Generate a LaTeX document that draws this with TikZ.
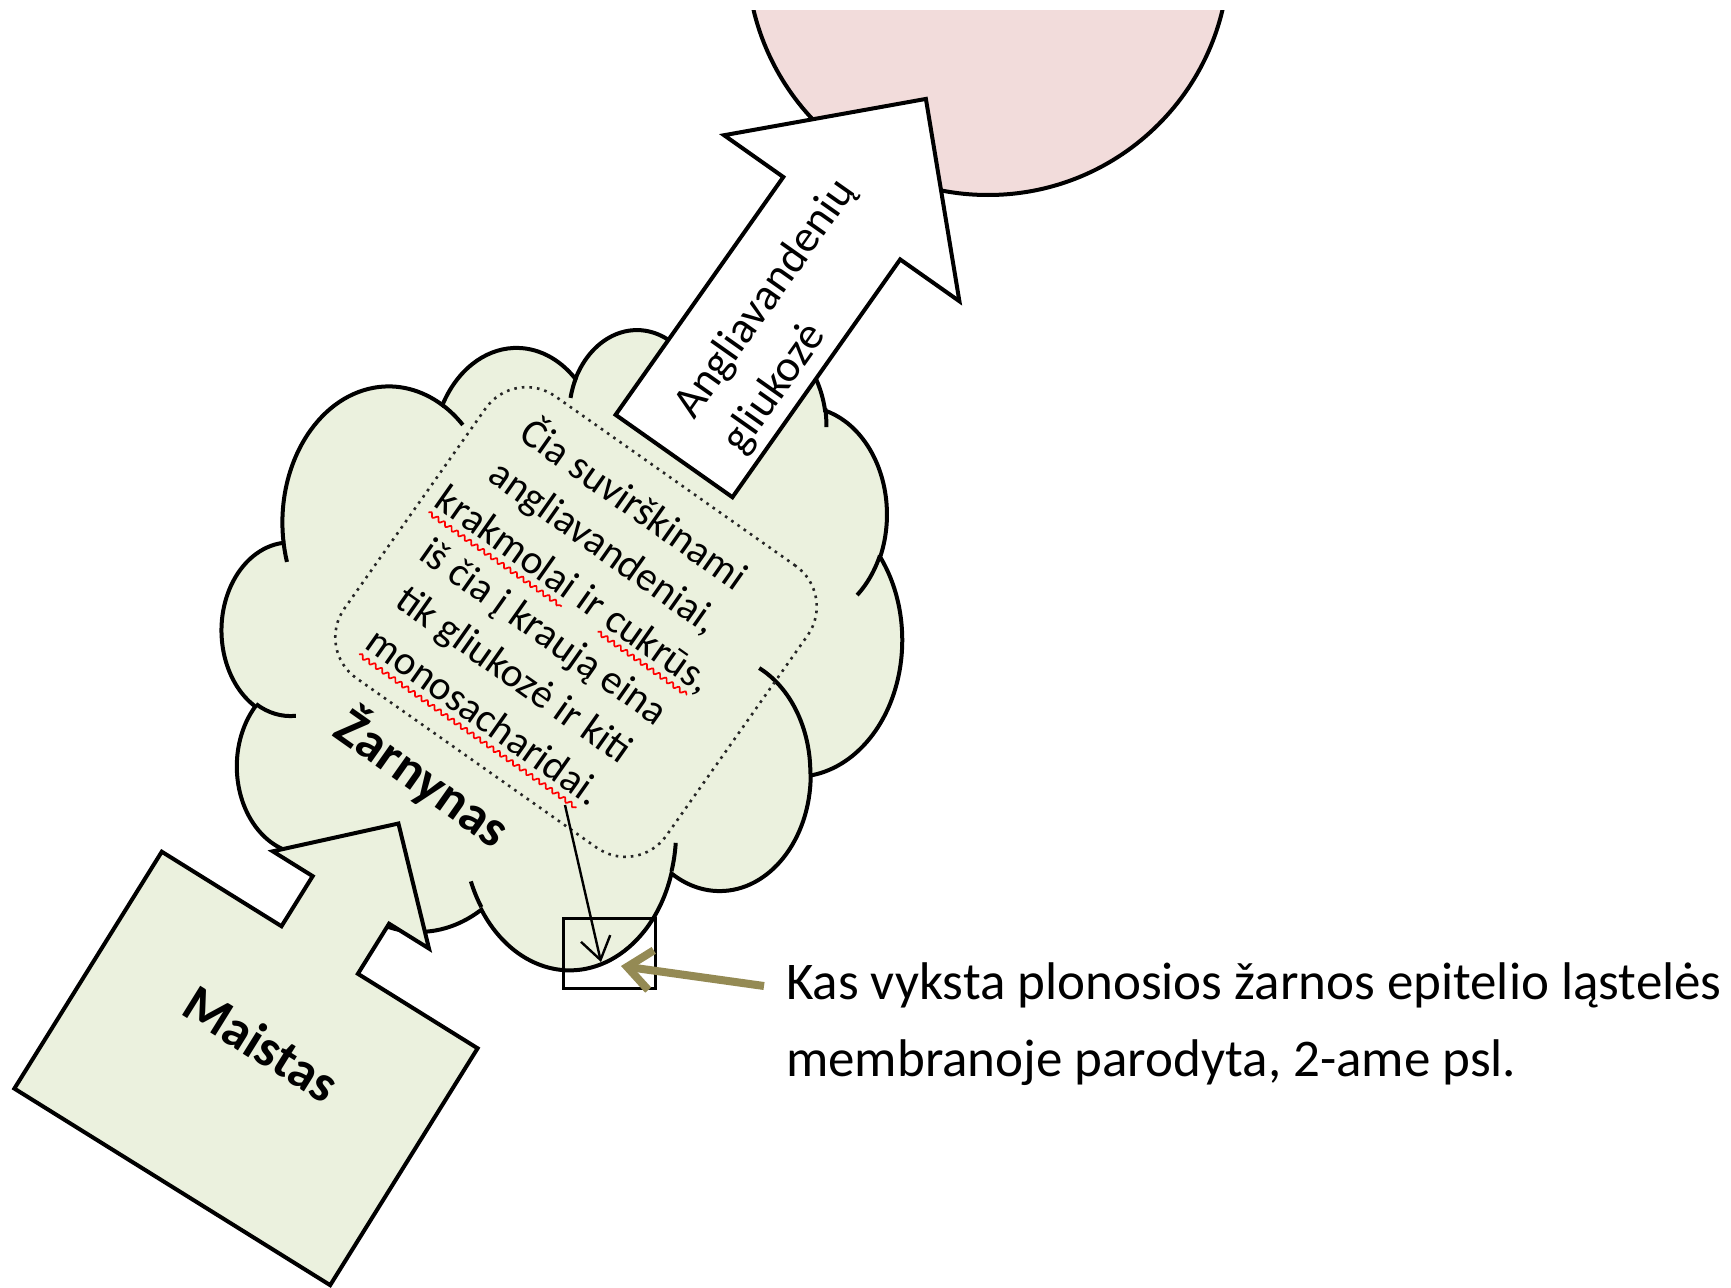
\documentclass[tikz,border=0pt]{standalone}
\usepackage{fontspec}
\setmainfont{Carlito}
\usetikzlibrary{arrows.meta,decorations.pathmorphing}
\definecolor{cloudgreen}{RGB}{235,241,222}
\definecolor{pinkc}{RGB}{242,220,219}
\definecolor{olivec}{RGB}{148,138,84}
\newcommand\redwave[1]{\tikz[baseline=(w.base),x=1pt,y=1pt]{\node[inner sep=0pt,outer sep=0pt,anchor=base,rotate=0,draw=none,fill=none,align=left](w){#1};\draw[red,line width=1.7pt,decorate,decoration={snake,amplitude=2pt,segment length=8pt}] ([yshift=-8pt]w.base west) -- ([yshift=-8pt]w.base east);}}
\begin{document}
\begin{tikzpicture}[x=1pt,y=-1pt,
  shapeline/.style={draw=black, line width=4pt},
  cloudtext/.style={font=\fontsize{41}{52}\selectfont, align=center, inner sep=0pt},
  arrowtext/.style={font=\fontsize{45}{59}\selectfont, align=left, inner sep=0pt},
  boldlabel/.style={font=\fontsize{53}{60}\selectfont\bfseries, inner sep=0pt},
  bottomtext/.style={font=\fontsize{53}{77}\selectfont, inner sep=0pt}]
\useasboundingbox (0,0) rectangle (1731,1287);
\fill[white] (0,0) rectangle (1731,1287);

% pink circle (clipped at top)
\begin{scope}
\clip (0,11) rectangle (1731,1287);
\draw[shapeline, fill=pinkc] (988,-46) circle[radius=241];
\end{scope}

% cloud
\begin{scope}[shift={(222,328)}, xscale=1.574, yscale=1.4815]
\path[shapeline, fill=cloudgreen] (39.00,143.70)
  arc[start angle=-187.746, end angle=-59.650, x radius=67.53, y radius=91.90]
  arc[start angle=-152.025, end angle=-45.447, x radius=53.33, y radius=72.67]
  arc[start angle=-153.487, end angle=-37.338, x radius=43.65, y radius=59.45]
  arc[start angle=-139.710, end angle=-10.210, x radius=48.57, y radius=65.95]
  arc[start angle=-74.768, end angle=23.213, x radius=53.33, y radius=72.73]
  arc[start angle=-37.537, end angle=81.859, x radius=67.75, y radius=92.20]
  arc[start angle=0.460, end angle=121.98, x radius=57.85, y radius=78.67]
  arc[start angle=16.845, end angle=146.251, x radius=67.52, y radius=92.15]
  arc[start angle=59.031, end angle=150.170, x radius=77.20, y radius=105.43]
  arc[start angle=-276.697, end angle=-136.917, x radius=43.60, y radius=59.18]
  arc[start angle=-239.643, end angle=-95.887, x radius=43.45, y radius=59.45]
  -- cycle;
\draw[line width=4pt]
  (46.93,261.77) arc[start angle=85.545, end angle=120.357, x radius=43.45, y radius=59.45]
  (69.28,348.99) arc[start angle=68.28, end angle=83.303, x radius=43.60, y radius=59.18]
  (164.78,390.90) arc[start angle=146.251, end angle=158.473, x radius=67.52, y radius=92.15]
  (288.27,347.51) arc[start angle=4.738, end angle=16.845, x radius=67.52, y radius=92.15]
  (341.29,229.54) arc[start angle=-64.014, end angle=0.460, x radius=57.85, y radius=78.67]
  (417.98,153.54) arc[start angle=23.213, end angle=49.623, x radius=53.33, y radius=72.73]
  (383.24,54.26) arc[start angle=-10.210, end angle=0.816, x radius=48.57, y radius=65.95]
  (290.78,39.52) arc[start angle=-156.279, end angle=-139.710, x radius=48.57, y radius=65.95]
  (221.41,47.20) arc[start angle=-167.725, end angle=-153.487, x radius=43.65, y radius=59.45]
  (140.00,51.92) arc[start angle=-59.650, end angle=-45.739, x radius=67.53, y radius=91.90]
  (41.27,157.89) arc[start angle=163.194, end angle=172.254, x radius=67.53, y radius=91.90];
\end{scope}

% dotted text box and text
\node[draw=black!85, line width=2.6pt, dash pattern=on 2.6pt off 5pt, rounded corners=50pt,
      minimum width=394pt, minimum height=345pt, rotate=-35.2, inner sep=0pt] (textbox) at (576,622) {};
\node[cloudtext, rotate=-35.2] (cloudtxt) at (558,612) {Čia suvirškinami\\angliavandeniai,\\\redwave{krakmolai} ir \redwave{cukrūs},\\iš čia į kraują eina\\tik gliukozė ir kiti\\\redwave{monosacharidai}.};
\node[boldlabel, rotate=-35.2] (zarn) at (423,778) {Žarnynas};

% big arrow
\begin{scope}[shift={(674,456)}, rotate=54.8]
\draw[shapeline, fill=white] (0,-71.5) -- (291,-71.5) -- (291,-144) -- (437,0) -- (291,144) -- (291,71.5) -- (0,71.5) -- cycle;
\node[arrowtext, anchor=west, rotate=54.8] (agtext) at (40,14) {Angliavandenių\\gliukozė};
\end{scope}

% Maistas up-arrow callout
\begin{scope}[shift={(319.7,950)}, rotate=-31.9]
\draw[shapeline, fill=cloudgreen] (-186,279) -- (186,279) -- (186,0) -- (45,0) -- (45,-59) -- (92,-59) -- (0,-149) -- (-92,-59) -- (-45,-59) -- (-45,0) -- (-186,0) -- cycle;
\node[boldlabel, rotate=-31.9] (maistas) at (0,110) {Maistas};
\end{scope}

% small box and arrows
\node[draw=black, line width=3pt, minimum width=92pt, minimum height=70pt, inner sep=0pt] (smallbox) at (609,953) {};
\coordinate (thinstart) at (565,805);
\coordinate (thinend) at (601,962);
\draw[line width=2.4pt, -{Straight Barb[length=22pt,width=30pt]}] (thinstart) -- (thinend);

\node[bottomtext, anchor=base west] (kas1) at (786,999) {Kas vyksta plonosios žarnos epitelio ląstelės};
\node[bottomtext, anchor=base west] (kas2) at (786,1076) {membranoje parodyta, 2-ame psl.};
\coordinate (olivetail) at (764,986);
\coordinate (olivetip) at (621,966);
\draw[olivec, line width=8pt, -{Straight Barb[length=24pt,width=40pt]}] (olivetail) -- (olivetip);
\end{tikzpicture}
\end{document}
